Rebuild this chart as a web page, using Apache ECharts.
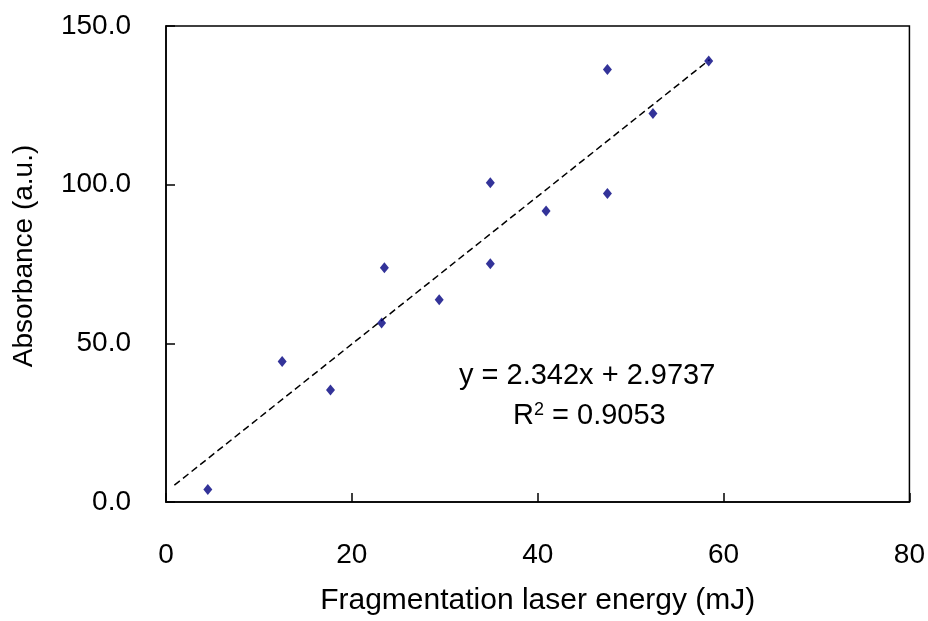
<!DOCTYPE html>
<html>
<head>
<meta charset="utf-8">
<script src="https://cdn.jsdelivr.net/npm/echarts@6/dist/echarts.min.js"></script>
<style>
  html, body { margin: 0; padding: 0; background: #fff; }
  #chart { width: 928px; height: 621px; }
</style>
</head>
<body>
<div id="chart"></div>
<script>
// measured points (laser energy mJ, absorbance a.u.)
var energy = [4.5, 12.5, 17.7, 23.2, 23.5, 29.4, 34.9, 34.9, 40.9, 47.5, 47.5, 52.4, 58.4];
var absorbance = [3.9, 44.3, 35.3, 56.4, 73.8, 63.7, 100.6, 75.1, 91.7, 136.3, 97.2, 122.4, 139.0];

// linear trendline ends
var trendX = [0.9, 58.5];
var trendY = [5.3, 139.4];

var xTicks = [0, 20, 40, 60, 80];
var yTicks = [0, 50, 100, 150];

var eqLine1 = 'y = 2.342x + 2.9737';
var eqLine2 = '0.9053';

var pts = [];
for (var i = 0; i < energy.length; i++) pts.push([energy[i], absorbance[i]]);
var trend = [];
for (var j = 0; j < trendX.length; j++) trend.push([trendX[j], trendY[j]]);

var font = 'Liberation Sans, Arial, sans-serif';

var myChart = echarts.init(document.getElementById('chart'));
var option = {
  backgroundColor: '#fff',
  animation: false,
  grid: {
    left: 166, top: 26, right: 17, bottom: 111,
    show: true, borderColor: '#000', borderWidth: 1.5, backgroundColor: 'transparent'
  },
  xAxis: {
    type: 'value',
    min: xTicks[0], max: xTicks[xTicks.length - 1], interval: 20,
    name: 'Fragmentation laser energy (mJ)',
    nameLocation: 'middle', nameGap: 84,
    nameTextStyle: { fontFamily: font, fontSize: 30, color: '#000' },
    axisLine: { show: true, lineStyle: { color: '#000', width: 1.5 } },
    axisTick: { show: true, inside: true, length: 9, lineStyle: { color: '#000', width: 1.5 } },
    axisLabel: { fontFamily: font, fontSize: 28, color: '#000', margin: 39 },
    splitLine: { show: false }
  },
  yAxis: {
    type: 'value',
    min: yTicks[0], max: yTicks[yTicks.length - 1], interval: 50,
    name: 'Absorbance (a.u.)',
    nameLocation: 'middle', nameGap: 128,
    nameTextStyle: { fontFamily: font, fontSize: 28, color: '#000', padding: [0, 0, 0, 16] },
    axisLine: { show: true, lineStyle: { color: '#000', width: 1.5 } },
    axisTick: { show: true, inside: true, length: 9, lineStyle: { color: '#000', width: 1.5 } },
    axisLabel: {
      fontFamily: font, fontSize: 28, color: '#000', margin: 35,
      formatter: function (v) { return v.toFixed(1); }
    },
    splitLine: { show: false }
  },
  series: [
    {
      type: 'line',
      data: trend,
      symbol: 'none',
      lineStyle: { color: '#000', width: 1.5, type: [7, 4] },
      z: 2
    },
    {
      type: 'scatter',
      data: pts,
      symbol: 'diamond',
      symbolSize: [9, 11],
      itemStyle: { color: '#000080' },
      z: 3
    }
  ],
  graphic: [
    {
      type: 'text', left: 459, top: 361,
      style: { text: eqLine1, font: '29px ' + font, fill: '#000' }
    },
    {
      type: 'text', left: 513, top: 401,
      style: {
        text: 'R{sup|2} = ' + eqLine2,
        font: '29px ' + font, fill: '#000',
        rich: { sup: { fontSize: 18, verticalAlign: 'top', padding: [0, 0, 12, 0], fontFamily: font } }
      }
    }
  ]
};
if (option && typeof option === "object") {
  myChart.setOption(option, true);
}
</script>
</body>
</html>
